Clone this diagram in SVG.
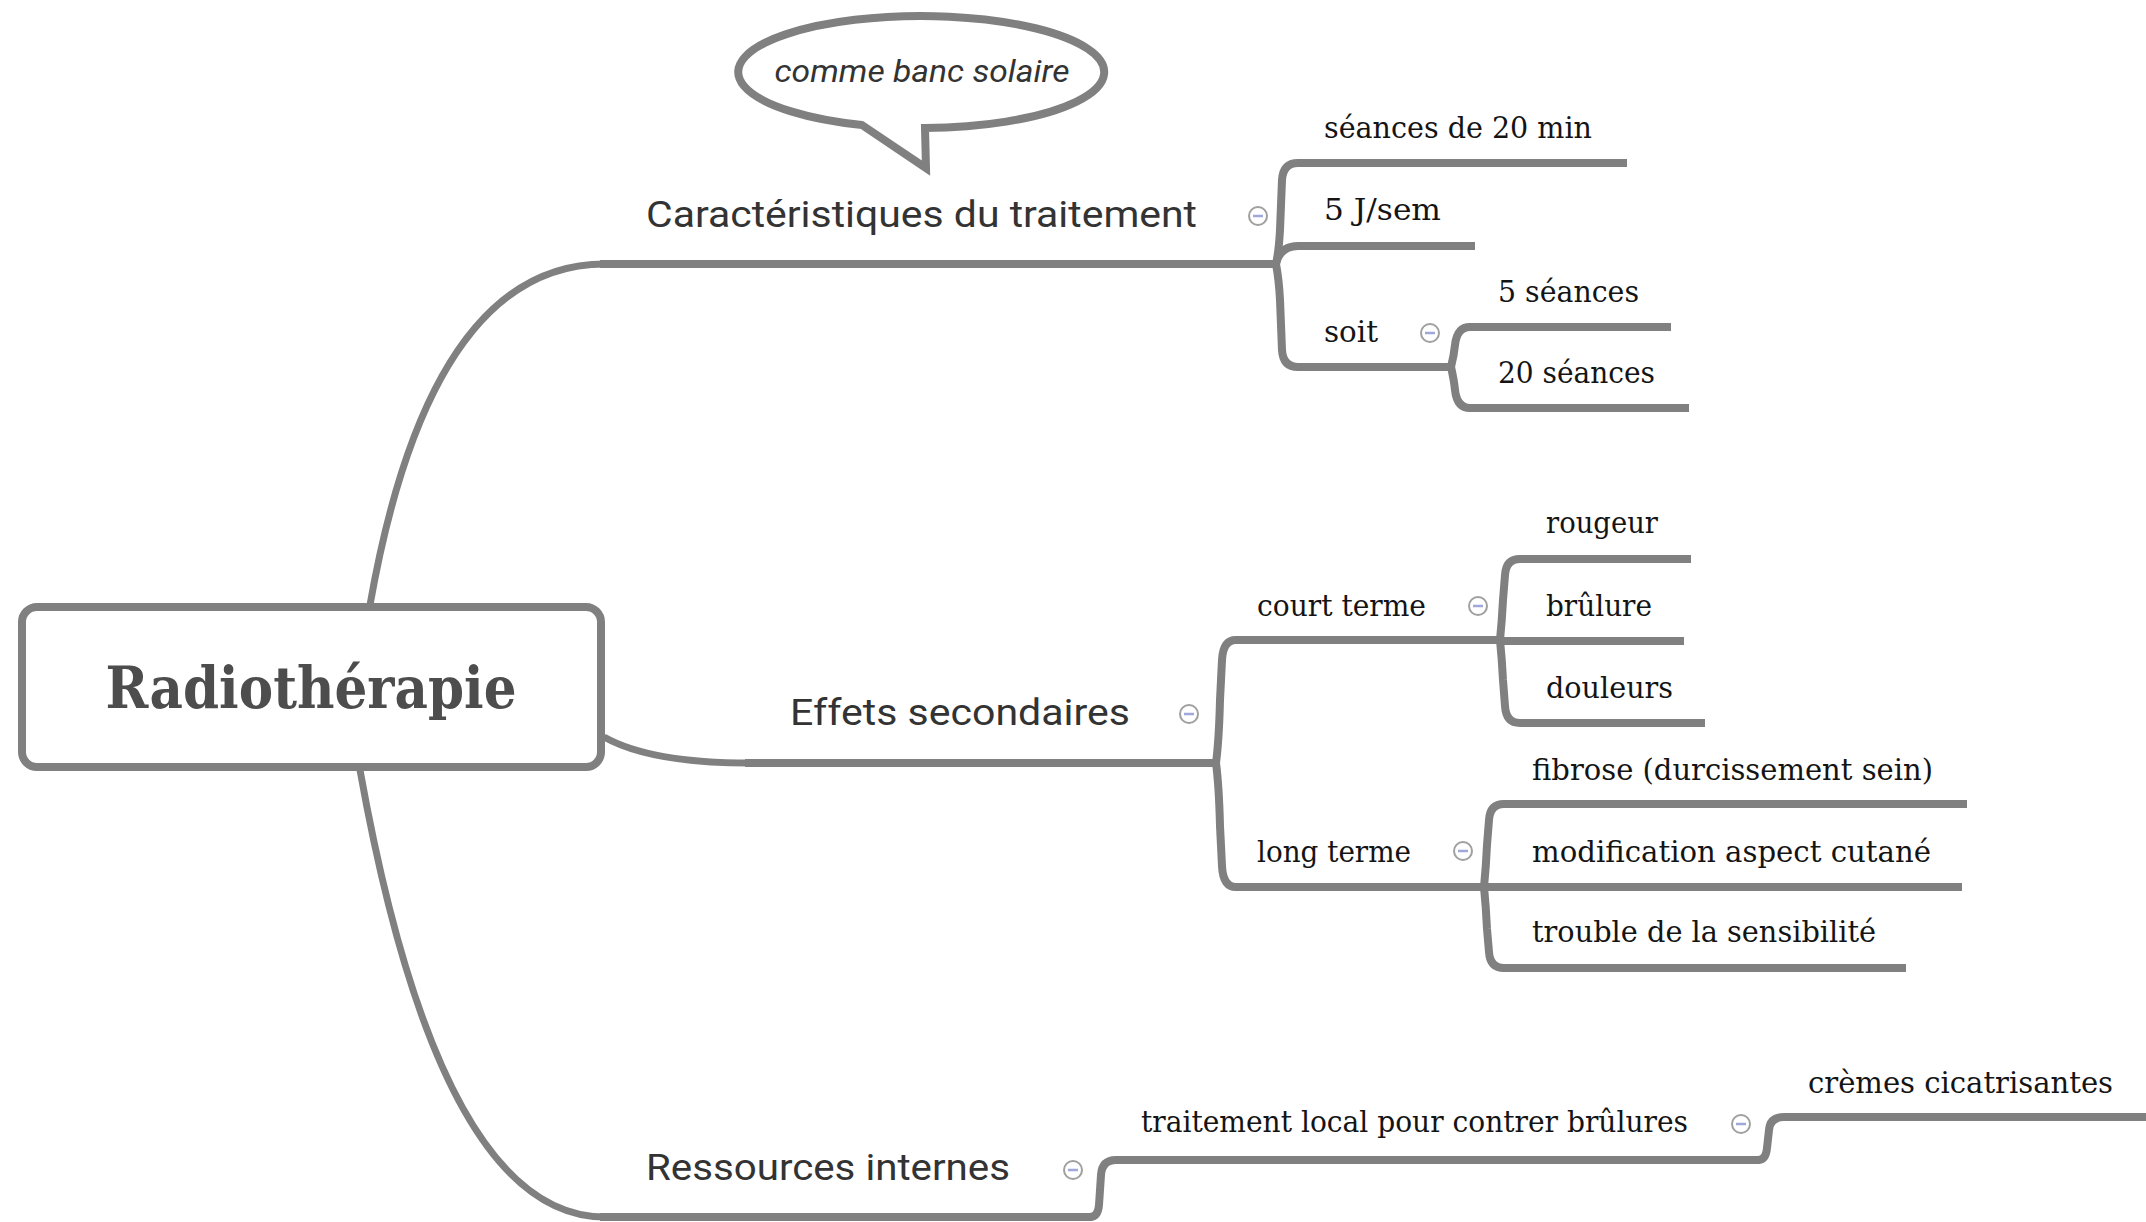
<svg xmlns="http://www.w3.org/2000/svg" width="2146" height="1222" viewBox="0 0 2146 1222">
<style>
.ln{fill:none;stroke:#808080;stroke-width:8;stroke-linecap:butt;stroke-linejoin:round}
.rc{fill:none;stroke:#808080;stroke-width:7}
.t1{font-family:Roboto,"Open Sans","Liberation Sans",sans-serif;font-size:37px;fill:#333333}
.t2{font-family:"DejaVu Serif","Liberation Serif",serif;font-size:30px;fill:#141414}
.cb circle{fill:#ffffff;stroke:#a0a0a0;stroke-width:2}
.cb line{stroke:#9fa8d8;stroke-width:2.5}
</style>
<defs>
<g id="collapse" class="cb"><circle cx="0" cy="0" r="9"/><line x1="-5" y1="0" x2="5" y2="0"/></g>
</defs>
<rect width="2146" height="1222" fill="#ffffff"/>

<g id="connectors">
<path class="rc" d="M370 605 Q430 264 605 264"/>
<path class="rc" d="M604 737 Q650 763 750 763"/>
<path class="rc" d="M360 770 Q440 1217 605 1217"/>
<path class="ln" d="M600 264 L1278 264"/>
<path class="ln" d="M745 763 L1218 763"/>
<path class="ln" d="M600 1217 L1092 1217"/>
<path class="ln" d="M1276 264 Q1279 250 1280 230 L1282 180 Q1283 163 1298 163 L1627 163"/>
<path class="ln" d="M1276 264 Q1280 246 1298 246 L1475 246"/>
<path class="ln" d="M1276 264 Q1279 280 1280 300 L1282 350 Q1283 367 1298 367 L1453 367"/>
<path class="ln" d="M1451 367 Q1454 355 1455 345 Q1457 327 1470 327 L1671 327"/>
<path class="ln" d="M1451 367 Q1454 380 1455 390 Q1457 408 1470 408 L1689 408"/>
<path class="ln" d="M1216 763 Q1219 740 1220 700 L1222 660 Q1223 640 1236 640 L1502 640"/>
<path class="ln" d="M1216 763 Q1219 786 1220 826 L1222 866 Q1223 887 1236 887 L1486 887"/>
<path class="ln" d="M1500 640 Q1502 620 1503 600 L1505 575 Q1506 559 1520 559 L1691 559"/>
<path class="ln" d="M1500 641 L1684 641"/>
<path class="ln" d="M1500 640 Q1502 660 1503 680 L1505 706 Q1506 723 1520 723 L1705 723"/>
<path class="ln" d="M1484 887 Q1486 867 1487 845 L1489 820 Q1490 804 1504 804 L1967 804"/>
<path class="ln" d="M1484 887 L1962 887"/>
<path class="ln" d="M1484 887 Q1486 907 1487 929 L1489 952 Q1490 968 1504 968 L1906 968"/>
<path class="ln" d="M1090 1217 Q1098 1217 1099 1205 L1101 1175 Q1102 1160 1116 1160 L1760 1160"/>
<path class="ln" d="M1758 1160 Q1766 1160 1767 1148 L1769 1130 Q1770 1117 1784 1117 L2146 1117"/>
</g>

<g id="root">
<rect x="22" y="607" width="579" height="160" rx="15" fill="#ffffff" stroke="#808080" stroke-width="8"/>
<text x="311" y="708" text-anchor="middle" font-family="'DejaVu Serif','Liberation Serif',serif" font-size="58" font-weight="bold" fill="#4d4d4d" textLength="411" lengthAdjust="spacingAndGlyphs">Radiothérapie</text>
</g>

<g id="callout">
<path d="M925 128 A183 56 0 1 0 862 125 L926 168 Z" fill="#ffffff" stroke="#808080" stroke-width="8" stroke-linejoin="miter"/>
<text x="922" y="82" text-anchor="middle" font-family="Roboto,'Open Sans','Liberation Sans',sans-serif" font-style="italic" font-size="32" fill="#333333" textLength="295" lengthAdjust="spacingAndGlyphs">comme banc solaire</text>
</g>

<g id="n-caracteristiques">
<text class="t1" x="646" y="227" textLength="551" lengthAdjust="spacingAndGlyphs">Caractéristiques du traitement</text>
<use href="#collapse" x="1258" y="216"/>
</g>
<g id="n-seances20"><text class="t2" x="1324" y="138" textLength="268" lengthAdjust="spacingAndGlyphs">séances de 20 min</text></g>
<g id="n-5jsem"><text class="t2" x="1324" y="220" textLength="117" lengthAdjust="spacingAndGlyphs">5 J/sem</text></g>
<g id="n-soit"><text class="t2" x="1324" y="342" textLength="54" lengthAdjust="spacingAndGlyphs">soit</text><use href="#collapse" x="1430" y="333"/></g>
<g id="n-5seances"><text class="t2" x="1498" y="302" textLength="141" lengthAdjust="spacingAndGlyphs">5 séances</text></g>
<g id="n-20seances"><text class="t2" x="1498" y="383" textLength="157" lengthAdjust="spacingAndGlyphs">20 séances</text></g>

<g id="n-effets">
<text class="t1" x="790" y="725" textLength="340" lengthAdjust="spacingAndGlyphs">Effets secondaires</text>
<use href="#collapse" x="1189" y="714"/>
</g>
<g id="n-court"><text class="t2" x="1257" y="616" textLength="169" lengthAdjust="spacingAndGlyphs">court terme</text><use href="#collapse" x="1478" y="606"/></g>
<g id="n-rougeur"><text class="t2" x="1546" y="533" textLength="112" lengthAdjust="spacingAndGlyphs">rougeur</text></g>
<g id="n-brulure"><text class="t2" x="1546" y="616" textLength="106" lengthAdjust="spacingAndGlyphs">brûlure</text></g>
<g id="n-douleurs"><text class="t2" x="1546" y="698" textLength="127" lengthAdjust="spacingAndGlyphs">douleurs</text></g>
<g id="n-long"><text class="t2" x="1257" y="862" textLength="154" lengthAdjust="spacingAndGlyphs">long terme</text><use href="#collapse" x="1463" y="851"/></g>
<g id="n-fibrose"><text class="t2" x="1532" y="780" textLength="401" lengthAdjust="spacingAndGlyphs">fibrose (durcissement sein)</text></g>
<g id="n-modif"><text class="t2" x="1532" y="862" textLength="399" lengthAdjust="spacingAndGlyphs">modification aspect cutané</text></g>
<g id="n-trouble"><text class="t2" x="1532" y="942" textLength="344" lengthAdjust="spacingAndGlyphs">trouble de la sensibilité</text></g>

<g id="n-ressources">
<text class="t1" x="646" y="1180" textLength="364" lengthAdjust="spacingAndGlyphs">Ressources internes</text>
<use href="#collapse" x="1073" y="1170"/>
</g>
<g id="n-traitement"><text class="t2" x="1141" y="1132" textLength="547" lengthAdjust="spacingAndGlyphs">traitement local pour contrer brûlures</text><use href="#collapse" x="1741" y="1124"/></g>
<g id="n-cremes"><text class="t2" x="1808" y="1093" textLength="305" lengthAdjust="spacingAndGlyphs">crèmes cicatrisantes</text></g>
</svg>
